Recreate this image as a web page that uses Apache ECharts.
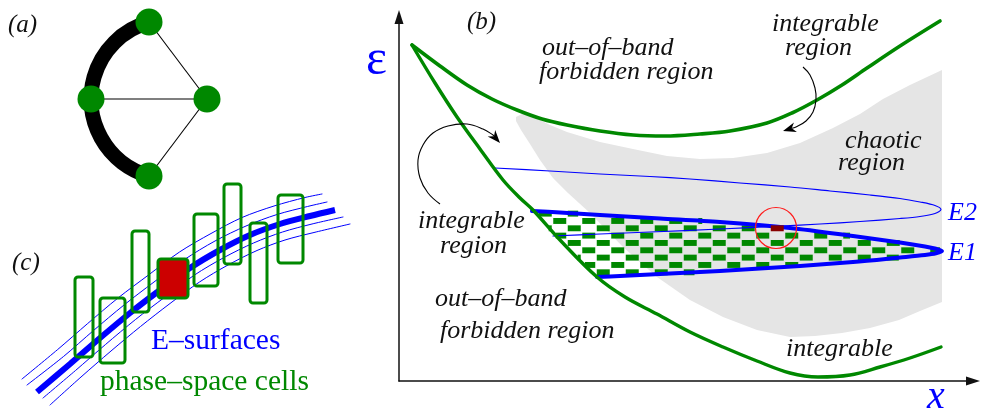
<!DOCTYPE html>
<html><head><meta charset="utf-8">
<script src="https://cdn.jsdelivr.net/npm/echarts@6/dist/echarts.min.js"></script>
<style>html,body{margin:0;padding:0;background:#fff}#c{width:982px;height:413px}</style>
</head><body><div id="c"></div>
<script>
// ---------- panel (a): graph ----------
const nodesA = [[149,22],[91,99],[207,99],[149,176]];
const edgesA = [[0,2],[1,2],[2,3]];
const arcCenterA = [171,99];
const arcRadiusA = 80;

// ---------- panel (b): curves (x, epsilon) ----------
const upperBand = [[412,45],[440,66],[467,85],[492,99],[517,110],[542,119],[567,125],[600,131],[633,135],[665,136],[700,134],[730,131],[767,123],[792,113],[817,100],[842,85],[867,68],[900,46],[940,21]];
const lowerBand = [[412,45],[435,83],[457,117],[480,149],[503,180],[520,198],[533,210],[560,240],[597,277],[625,297],[657,314],[690,332],[723,347],[757,361],[790,373],[818,377],[850,375],[880,367],[910,358],[941,347]];
const chaoticRegion = [[516,117],[522,114],[532,116],[550,125],[567,132],[600,142],[633,149],[667,156],[700,159],[733,158],[767,153],[800,143],[833,128],[860,114],[883,99],[910,85],[942,70],[942,302],[920,311],[899,320],[870,328],[842,333],[815,336],[790,337],[757,330],[723,317],[690,300],[657,277],[623,247],[590,213],[568,193],[553,178],[540,160],[530,144],[521,130],[516,121]];
const curveE1 = [[532,211],[560,212.5],[600,215],[660,218.5],[720,222],[790,228],[853,236],[900,242.5],[925,246.5],[936,248.8],[942,251],[936,253.3],[925,255],[900,257.5],[853,262],[800,266],[720,271],[660,274],[620,276],[597,277]];
const curveE2 = [[495,168],[550,171],[600,174],[650,176.5],[690,179],[740,183],[790,187],[830,191],[870,195],[900,198.5],[920,202],[935,205.5],[941,209.5],[935,213.5],[920,216.5],[900,218.5],[860,221.5],[820,224],[780,226],[720,229],[650,232],[600,234],[553,236]];
const arrowsB = [
  [[440,204],[428,193],[420,178],[418,160],[423,145],[433,133],[448,126],[467,124],[483,129],[493,135],[500,143]],
  [[803,67],[810,75],[815,88],[816,100],[813,112],[806,121],[796,127],[783,131]]
];
const markCircle = [[776,228]];
const markCircleRadius = 20.5;
// checkerboard of phase-space cells inside E1 (cell grid definition)
const checkerOrigin = [552.5, 217.3];
const checkerCell = [14.5, 7.33];
const checkerRows = [-1, 8];
const checkerCols = [-2, 27];
const markedCell = [15, 1];

// ---------- panel (c): E-surfaces and cells ----------
const surfaceMain = [[37,392],[70,364],[100,338],[130,313],[160,290],[190,268],[220,250],[250,235],[280,224],[310,216],[335,210]];
const surfaceThinA = [[22,379],[57.7,349.5],[87.7,323.5],[118,298],[148.5,275],[179.5,252],[211,233.5],[242,217.5],[274,206],[305,197.5],[322,194]];
const surfaceThinB = [[27,385],[63.5,356.5],[93.5,330.5],[124,305],[154,282],[184.5,259.5],[215,241],[246,226],[277,214.5],[307.5,206.5],[327,202]];
const surfaceThinC = [[43,398],[75.5,370.5],[105.5,344.5],[135.5,319.5],[165,297],[194.5,275],[224,257.5],[253.5,243],[282.5,232],[312,224],[343,217]];
const surfaceThinD = [[50,405],[81,377],[111,351],[140.5,326.5],[170,303.5],[199.5,282],[228,265],[257,250.5],[285,240],[314,232.5],[350,224]];
const cellsC = [[75,277,93,357],[100,298,125,363],[132,231,149,312],[158,259,188,298],[194,214,218,286],[224,184,241,264],[250,223,267,303],[278,195,303,263]];
const markedCellC = 3;

// ---------- text ----------
const labelsRegions = [[542,48,'out–of–band'],[539,72,'forbidden region'],[772,24,'integrable'],[785,48,'region'],[845,141,'chaotic'],[838,163,'region'],[418,221,'integrable'],[440,246,'region'],[435,299,'out–of–band'],[440,331,'forbidden region'],[786,349,'integrable']];
const labelsPanels = [[8,25,'(a)'],[467,22,'(b)'],[12,263,'(c)']];
const labelsEnergy = [[948,213,'E2'],[948,253,'E1']];
const labelEps = [[366,61,'ε']];
const labelX = [[927,397,'x']];
const labelSurf = [[151,341,'E–surfaces']];
const labelCells = [[100,382,'phase–space cells']];

// ---------- build ----------
const GREEN = '#008800', BLUE = '#0000ff';
const SERIF = '"Liberation Serif"';
const X = {xAxisIndex:0, yAxisIndex:0, silent:true, animation:false};

function spansAt(poly, y){
  const xs=[];
  for(let i=0;i<poly.length;i++){
    const a=poly[i], b=poly[(i+1)%poly.length];
    if((a[1]<=y && b[1]>y)||(b[1]<=y && a[1]>y)) xs.push(a[0]+(y-a[1])*(b[0]-a[0])/(b[1]-a[1]));
  }
  xs.sort((m,n)=>m-n);
  const out=[]; for(let i=0;i+1<xs.length;i+=2) out.push([xs[i],xs[i+1]]);
  return out;
}
const e1Region = curveE1.concat(lowerBand.filter(p=>p[1]>211 && p[1]<277).reverse());
const insetX = 0.75, insetY = 0.7;
const greenCells=[], darkCells=[];
for(let r=checkerRows[0]; r<=checkerRows[1]; r++){
  for(let c=checkerCols[0]; c<=checkerCols[1]; c++){
    if((((c+r)%2)+2)%2!==0) continue;
    const x1=checkerOrigin[0]+c*checkerCell[0]+insetX, x2=checkerOrigin[0]+(c+1)*checkerCell[0]-insetX;
    const y1=checkerOrigin[1]+r*checkerCell[1]+insetY, y2=checkerOrigin[1]+(r+1)*checkerCell[1]-insetY;
    const yc=(y1+y2)/2;
    const isMarked = (c===markedCell[0] && r===markedCell[1]);
    if(isMarked){ darkCells.push([x1,y1,x2,y2]); continue; }
    spansAt(e1Region,yc).forEach(s=>{
      const a=Math.max(x1,s[0]), b=Math.min(x2,s[1]);
      if(b-a>0.6) greenCells.push([a,y1,b,y2]);
    });
  }
}

function lineS(data,color,width,z,smooth){
  return Object.assign({type:'line',data,symbol:'none',smooth:smooth==null?0.35:smooth,lineStyle:{color,width,cap:'round',join:'round'},z},X);
}
function polyS(points,fill,z){
  return Object.assign({type:'custom',data:[[0,0]],z,renderItem:(p,api)=>({type:'polygon',shape:{points:points.map(q=>api.coord(q))},style:{fill,stroke:null}})},X);
}
function rectsS(rects,style,z,r){
  return Object.assign({type:'custom',data:rects,z,renderItem:(p,api)=>{
    const a=api.coord([api.value(0),api.value(1)]), b=api.coord([api.value(2),api.value(3)]);
    return {type:'rect',shape:{x:a[0],y:a[1],width:b[0]-a[0],height:b[1]-a[1],r:r||0},style:Object.assign({},style)};
  }},X);
}
function textS(items,fontSpec,fill,z){
  return Object.assign({type:'custom',data:items.map(t=>[t[0],t[1]]),z,renderItem:(p,api)=>{
    const t=items[p.dataIndex]; const c=api.coord([t[0],t[1]]);
    return {type:'text',x:c[0],y:c[1],style:{text:t[2],align:'left',verticalAlign:'middle',font:fontSpec+' '+SERIF,fill}};
  }},X);
}
function arrowS(list,z){
  return Object.assign({type:'custom',data:list.map((a,i)=>[i,0]),z,renderItem:(p,api)=>{
    const pts=list[p.dataIndex].map(q=>api.coord(q));
    const tip=pts[pts.length-1], prev=pts[pts.length-2];
    let dx=tip[0]-prev[0], dy=tip[1]-prev[1]; const L=Math.hypot(dx,dy); dx/=L; dy/=L;
    const len=13, w=5;
    const base=[tip[0]-dx*len, tip[1]-dy*len];
    const notch=[tip[0]-dx*len*0.7, tip[1]-dy*len*0.7];
    const left=[base[0]-dy*w, base[1]+dx*w], right=[base[0]+dy*w, base[1]-dx*w];
    const body=pts.slice(0,-1).concat([notch]);
    return {type:'group',children:[
      {type:'polyline',shape:{points:body,smooth:0.4},style:{stroke:'#000',lineWidth:1.1,fill:null}},
      {type:'polygon',shape:{points:[tip,left,notch,right]},style:{fill:'#000'}}
    ]};
  }},X);
}

const series = [
  // panel (b)
  polyS(chaoticRegion,'#e5e5e5',1),
  rectsS(greenCells,{fill:GREEN},2),
  lineS(curveE2,BLUE,1.2,3,0.3),
  lineS(curveE1,BLUE,4,4,0.3),
  lineS(upperBand,GREEN,3.6,5),
  lineS(lowerBand,GREEN,3.4,5),
  rectsS(darkCells,{fill:'#880000'},6),
  Object.assign({type:'custom',data:markCircle,z:7,renderItem:(p,api)=>{
    const c=api.coord([api.value(0),api.value(1)]); const r=api.size([markCircleRadius,0])[0];
    return {type:'circle',shape:{cx:c[0],cy:c[1],r},style:{stroke:'#ff1a1a',lineWidth:1.2,fill:null}};
  }},X),
  arrowS(arrowsB,7),
  // panel (a)
  Object.assign({type:'custom',data:[arcCenterA],z:3,renderItem:(p,api)=>{
    const c=api.coord(arcCenterA); const r=api.size([arcRadiusA,0])[0];
    const top=nodesA[0], bot=nodesA[3];
    const a0=Math.atan2(bot[1]-arcCenterA[1],bot[0]-arcCenterA[0]);
    const a1=Math.atan2(top[1]-arcCenterA[1],top[0]-arcCenterA[0])+2*Math.PI;
    return {type:'arc',shape:{cx:c[0],cy:c[1],r,startAngle:a0,endAngle:a1,clockwise:true},style:{stroke:'#000',lineWidth:15,fill:null,lineCap:'butt'}};
  }},X),
  Object.assign({type:'custom',data:edgesA,z:3,renderItem:(p,api)=>{
    const e=edgesA[p.dataIndex]; const a=api.coord(nodesA[e[0]]), b=api.coord(nodesA[e[1]]);
    return {type:'line',shape:{x1:a[0],y1:a[1],x2:b[0],y2:b[1]},style:{stroke:'#000',lineWidth:1.1}};
  }},X),
  Object.assign({type:'scatter',data:nodesA,symbol:'circle',symbolSize:27,itemStyle:{color:GREEN,opacity:1},z:4},X),
  // panel (c)
  lineS(surfaceThinA,BLUE,1,2,0.3),
  lineS(surfaceThinB,BLUE,1,2,0.3),
  lineS(surfaceThinC,BLUE,1,2,0.3),
  lineS(surfaceThinD,BLUE,1,2,0.3),
  Object.assign(lineS(surfaceMain,BLUE,6,3,0.3),{lineStyle:{color:BLUE,width:6,cap:'butt'}}),
  rectsS(cellsC.filter((c,i)=>i!==markedCellC),{fill:null,stroke:GREEN,lineWidth:3},4,3),
  rectsS([cellsC[markedCellC]],{fill:'#cc0000',stroke:GREEN,lineWidth:3},4,3),
  // text
  textS(labelsRegions,'italic 26px','#111',9),
  textS(labelsPanels,'italic 25px','#111',9),
  textS(labelsEnergy,'italic 26px',BLUE,9),
  textS(labelEps,'50px',BLUE,9),
  textS(labelX,'italic 40px',BLUE,9),
  textS(labelSurf,'29.5px',BLUE,9),
  textS(labelCells,'29.5px',GREEN,9)
];

const hiddenAxis = {type:'value',show:false,splitLine:{show:false}};
const arrowAxis = () => ({type:'value',gridIndex:1,min:0,max:1,
  axisLine:{show:true,onZero:true,symbol:['none','triangle'],symbolSize:[9,14],lineStyle:{color:'#111',width:1.5}},
  axisTick:{show:false},axisLabel:{show:false},splitLine:{show:false}});

const chart = echarts.init(document.getElementById('c'));
chart.setOption({
  animation:false,
  backgroundColor:'#ffffff',
  grid:[{left:0,top:0,right:0,bottom:0},{left:399,top:17,right:9,bottom:32}],
  xAxis:[Object.assign({min:0,max:982,gridIndex:0},hiddenAxis),arrowAxis()],
  yAxis:[Object.assign({min:0,max:413,inverse:true,gridIndex:0},hiddenAxis),arrowAxis()],
  series
});
</script></body></html>
